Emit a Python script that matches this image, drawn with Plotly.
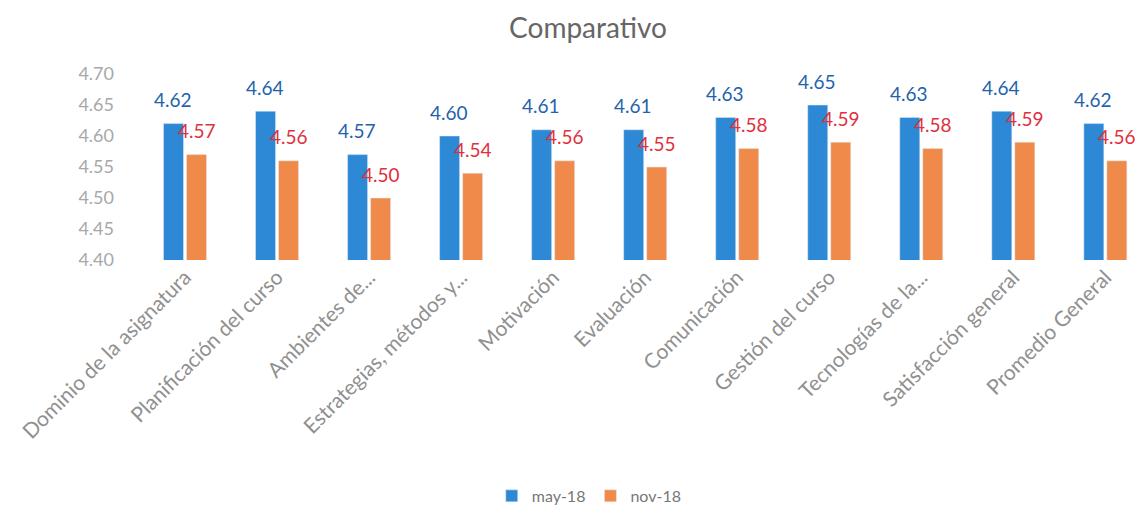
import plotly.graph_objects as go

categories = ["Dominio de la asignatura", "Planificación del curso", "Ambientes de...",
              "Estrategias, métodos y...", "Motivación", "Evaluación", "Comunicación",
              "Gestión del curso", "Tecnologías de la...", "Satisfacción general", "Promedio General"]
may18 = [4.62, 4.64, 4.57, 4.60, 4.61, 4.61, 4.63, 4.65, 4.63, 4.64, 4.62]
nov18 = [4.57, 4.56, 4.50, 4.54, 4.56, 4.55, 4.58, 4.59, 4.58, 4.59, 4.56]
yticks = [4.40, 4.45, 4.50, 4.55, 4.60, 4.65, 4.70]

BLUE = "#2d88d5"
ORANGE = "#f08a4b"
BLUE_TXT = "#1f62ad"
RED_TXT = "#e0303c"
FONT = "Lato"

# page body has an 8px default margin, so the figure is 8px smaller than the window
W, H = 1136, 505

fig = go.Figure()
fig.add_trace(go.Bar(name="may-18", x=categories, y=may18, marker_color=BLUE))
fig.add_trace(go.Bar(name="nov-18", x=categories, y=nov18, marker_color=ORANGE))

annotations = []
for c, v in zip(categories, may18):
    annotations.append(dict(x=c, y=v, xref="x", yref="y", text=f"{v:.2f}", showarrow=False,
                            xshift=-12, yshift=24, yanchor="middle",
                            font=dict(family=FONT, size=19, color=BLUE_TXT)))
for c, v in zip(categories, nov18):
    annotations.append(dict(x=c, y=v, xref="x", yref="y", text=f"{v:.2f}", showarrow=False,
                            xshift=12, yshift=24, yanchor="middle",
                            font=dict(family=FONT, size=19, color=RED_TXT)))

fig.update_layout(
    width=W, height=H,
    margin=dict(l=131, r=0, t=66, b=253, autoexpand=False),
    paper_bgcolor="white", plot_bgcolor="white",
    title=dict(text="Comparativo", x=580 / W, xanchor="center", y=1 - 20 / H, yanchor="middle",
               font=dict(family=FONT, size=28, color="#666666")),
    barmode="group", bargap=0.5, bargroupgap=0.13,
    font=dict(family=FONT, color="#888888"),
    legend=dict(orientation="h", x=0.448, xanchor="center", y=-1.36, yanchor="bottom",
                font=dict(family=FONT, size=16, color="#777777")),
    annotations=annotations,
    showlegend=True,
)
fig.update_yaxes(range=[4.40, 4.70], tickvals=yticks, automargin=False,
                 ticktext=[f"{t:.2f}" for t in yticks], showgrid=False, zeroline=False,
                 showline=False, tickfont=dict(family=FONT, size=18, color="#a8a8a8"),
                 ticklabelstandoff=24)
fig.update_xaxes(tickangle=-45, showgrid=False, showline=False, automargin=False,
                 range=[-0.5, 10.42],
                 tickfont=dict(family=FONT, size=21, color="#909090"))

fig.write_html("out.html")
